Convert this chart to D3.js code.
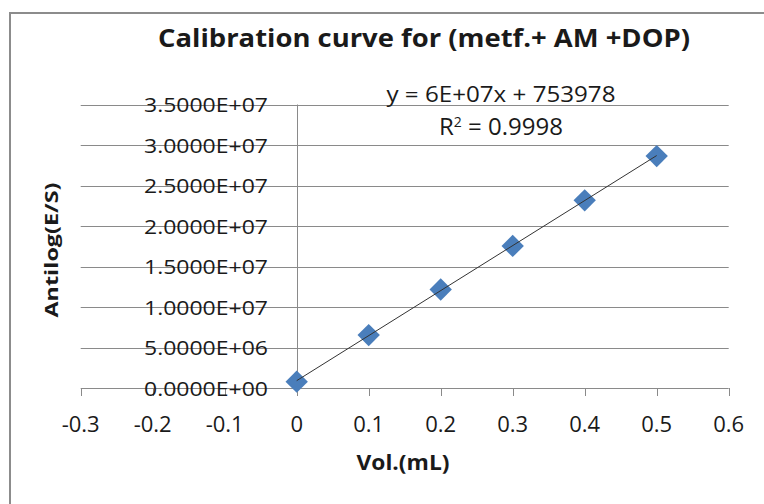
<!DOCTYPE html>
<html>
<head>
<meta charset="utf-8">
<script src="https://cdn.jsdelivr.net/npm/d3@7"></script>
<style>
  body { margin: 0; background: #fff; }
  text { font-family: "Open Sans", Lato, sans-serif; fill: #1a1a1a; font-variant-ligatures: none; }
</style>
</head>
<body>
<script>
// ********************** DATA **************************************************
var volumes = [0, 0.1, 0.2, 0.3, 0.4, 0.5];
var antilog = [0.78e6, 6.53e6, 12.16e6, 17.54e6, 23.17e6, 28.63e6];
var xTicks = [-0.3, -0.2, -0.1, 0, 0.1, 0.2, 0.3, 0.4, 0.5, 0.6];
var xTickLabels = ["-0.3", "-0.2", "-0.1", "0", "0.1", "0.2", "0.3", "0.4", "0.5", "0.6"];
var yTicks = [0, 5e6, 1e7, 1.5e7, 2e7, 2.5e7, 3e7, 3.5e7];
var yTickLabels = ["0.0000E+00", "5.0000E+06", "1.0000E+07", "1.5000E+07",
                   "2.0000E+07", "2.5000E+07", "3.0000E+07", "3.5000E+07"];
var title_text = "Calibration curve for (metf.+ AM +DOP)";
var eqText = "y = 6E+07x + 753978";
var r2Text = "0.9998";

var width = 764, height = 504;
var gridColor = "#8a8a8a";

var svg = d3.select("body").append("svg")
    .attr("width", width)
    .attr("height", height);

// chart border (runs off the right / bottom edge)
svg.append("rect")
    .attr("x", 10).attr("y", 13)
    .attr("width", 800).attr("height", 600)
    .attr("fill", "#fff")
    .attr("stroke", "#8c8c8c")
    .attr("stroke-width", 2);

// scales
var x = d3.scaleLinear().domain([-0.3, 0.6]).range([80.7, 728.7]);
var y = d3.scaleLinear().domain([0, 3.5e7]).range([388, 104.5]);

// ********************** GRID + AXES *******************************************
svg.append("g").selectAll("line")
    .data(yTicks)
    .enter().append("line")
    .attr("x1", x(-0.3)).attr("x2", x(0.6))
    .attr("y1", d => Math.round(y(d)) + 0.5)
    .attr("y2", d => Math.round(y(d)) + 0.5)
    .attr("stroke", gridColor)
    .attr("stroke-width", 1);

// vertical axis at x = 0
svg.append("line")
    .attr("x1", Math.round(x(0)) + 0.5).attr("x2", Math.round(x(0)) + 0.5)
    .attr("y1", y(3.5e7)).attr("y2", y(0))
    .attr("stroke", gridColor);

// x ticks
svg.append("g").selectAll("line")
    .data(xTicks)
    .enter().append("line")
    .attr("x1", d => Math.round(x(d)) + 0.5)
    .attr("x2", d => Math.round(x(d)) + 0.5)
    .attr("y1", y(0)).attr("y2", y(0) + 8)
    .attr("stroke", gridColor);

// x tick labels
svg.append("g").selectAll("text")
    .data(xTicks)
    .enter().append("text")
    .attr("x", d => x(d))
    .attr("y", 431.5)
    .attr("text-anchor", "middle")
    .style("font-size", "22px")
    .text((d, i) => xTickLabels[i]);

// y tick labels
svg.append("g").selectAll("text")
    .data(yTicks)
    .enter().append("text")
    .attr("x", 268)
    .attr("y", d => y(d) + 7.5)
    .attr("text-anchor", "end")
    .style("font-size", "20.5px")
    .attr("textLength", 124)
    .attr("lengthAdjust", "spacingAndGlyphs")
    .text((d, i) => yTickLabels[i]);

// ********************** TRENDLINE + POINTS ************************************
var mx = d3.mean(volumes), my = d3.mean(antilog);
var sxy = d3.sum(volumes, (v, i) => (v - mx) * (antilog[i] - my));
var sxx = d3.sum(volumes, v => (v - mx) * (v - mx));
var slope = sxy / sxx, intercept = my - slope * mx;

var diamond = d3.symbol().type(d3.symbolSquare).size(250);
svg.append("g").selectAll("path")
    .data(volumes)
    .enter().append("path")
    .attr("d", diamond)
    .attr("transform", (d, i) => "translate(" + x(d) + "," + y(antilog[i]) + ") rotate(45)")
    .attr("fill", "#4a7ebb");

// trendline drawn over the markers, like Excel
svg.append("line")
    .attr("x1", x(volumes[0])).attr("y1", y(slope * volumes[0] + intercept))
    .attr("x2", x(volumes[5])).attr("y2", y(slope * volumes[5] + intercept))
    .attr("stroke", "#333")
    .attr("stroke-width", 1);

// ********************** TEXTS *************************************************
svg.append("text")
    .attr("x", 424).attr("y", 46.5)
    .attr("text-anchor", "middle")
    .style("font-size", "25px")
    .style("font-weight", "bold")
    .attr("textLength", 532)
    .attr("lengthAdjust", "spacingAndGlyphs")
    .text(title_text);

svg.append("text")
    .attr("x", 501).attr("y", 102)
    .attr("text-anchor", "middle")
    .style("font-size", "22px")
    .attr("textLength", 229)
    .attr("lengthAdjust", "spacingAndGlyphs")
    .text(eqText);

var r2 = svg.append("text")
    .attr("x", 501).attr("y", 135)
    .attr("text-anchor", "middle")
    .style("font-size", "24px");
r2.append("tspan").text("R");
r2.append("tspan").attr("dy", -8).style("font-size", "14px").text("2");
r2.append("tspan").attr("dy", 8).text(" = " + r2Text);

svg.append("text")
    .attr("x", 403).attr("y", 470)
    .attr("text-anchor", "middle")
    .style("font-size", "21px")
    .style("font-weight", "bold")
    .attr("textLength", 93)
    .attr("lengthAdjust", "spacingAndGlyphs")
    .text("Vol.(mL)");

svg.append("text")
    .attr("transform", "translate(57.5,250) rotate(-90)")
    .attr("text-anchor", "middle")
    .style("font-size", "18px")
    .style("font-weight", "bold")
    .attr("textLength", 135)
    .attr("lengthAdjust", "spacingAndGlyphs")
    .text("Antilog(E/S)");
</script>
</body>
</html>
